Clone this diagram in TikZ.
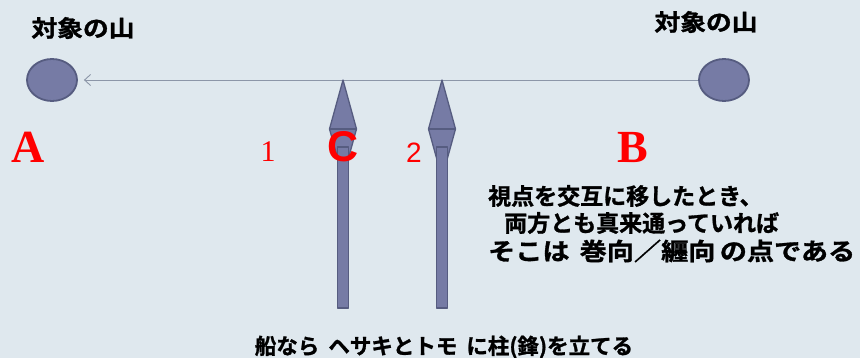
\documentclass[tikz,border=0pt]{standalone}
\usepackage{fontspec}
\usetikzlibrary{shapes.geometric,arrows.meta}
\newfontfamily\jp[FakeBold=1.2]{Noto Sans CJK JP Bold}
\newfontfamily\lser{Liberation Serif}
\newfontfamily\lsans{Liberation Sans}
\definecolor{bg}{HTML}{DFE8EE}
\definecolor{spfill}{HTML}{767BA5}
\definecolor{spdraw}{HTML}{565C80}
\definecolor{axis}{HTML}{8C96A8}
\begin{document}
\begin{tikzpicture}[x=1pt,y=-1pt,
  mountain/.style={ellipse, draw=spdraw, line width=1.8pt, fill=spfill,
    minimum width=50pt, minimum height=42pt, inner sep=0pt},
  spear/.style={fill=spfill, draw=spdraw, line width=1.3pt, line join=round},
  redlbl/.style={text=red, inner sep=0pt},
  jptext/.style={inner sep=0pt, font=\jp, text=black}]
\fill[bg] (0,0) rectangle (860,358);
\useasboundingbox (0,0) rectangle (860,358);

% mountains
\node[mountain] (mA) at (52,80) {};
\node[mountain] (mB) at (724,80) {};
\draw[axis, line width=0.9pt, -{Straight Barb[length=6pt,width=11pt]}, shorten >=6pt] (mB.west) -- (mA.east);

% spears
\foreach \x in {343,442}{
  \filldraw[spear] (\x,80) -- (\x+13.5,129) -- (\x,178) -- (\x-13.5,129) -- cycle;
  \draw[spdraw, line width=1.3pt] (\x-13.5,129) -- (\x+13.5,129);
  \filldraw[spear] (\x-5.5,147) rectangle (\x+5.5,308);
}

% mountain titles
\node[jptext] (tA) at (83,28) {\scalebox{1.12}[1]{\fontsize{23}{23}\selectfont 対象の山}};
\node[jptext] (tB) at (706,22) {\scalebox{1.12}[1]{\fontsize{23}{23}\selectfont 対象の山}};

% red labels
\node[redlbl, font=\lser\bfseries\fontsize{46}{46}\selectfont] (lA) at (28,147) {A};
\node[redlbl, font=\lser\bfseries\fontsize{46}{46}\selectfont] (lB) at (633,148) {B};
\node[redlbl, font=\lsans\bfseries\fontsize{43}{43}\selectfont] (lC) at (343,147) {C};
\node[redlbl, font=\lser\fontsize{30}{30}\selectfont] (l1) at (268,152) {1};
\node[redlbl, font=\lsans\fontsize{28}{28}\selectfont] (l2) at (414,153) {2};

% explanation
\node[jptext, anchor=west, font=\jp\fontsize{23}{23}\selectfont] (e1) at (488,196) {視点を交互に移したとき、};
\node[jptext, anchor=west, font=\jp\fontsize{23}{23}\selectfont] (e2) at (504,223) {両方とも真来通っていれば};
\node[jptext, anchor=west, font=\jp\fontsize{24}{24}\selectfont] (e3) at (488,251) {\resizebox{367pt}{\height}{そこは\hspace{9pt}巻向／纒向\hspace{4pt}の点である}};

% bottom caption
\node[jptext, font=\jp\fontsize{21.5}{21.5}\selectfont] (cap) at (444,347) {船なら\hspace{9pt}ヘサキとトモ\hspace{9pt}に柱(鋒)を立てる};
\end{tikzpicture}
\end{document}
